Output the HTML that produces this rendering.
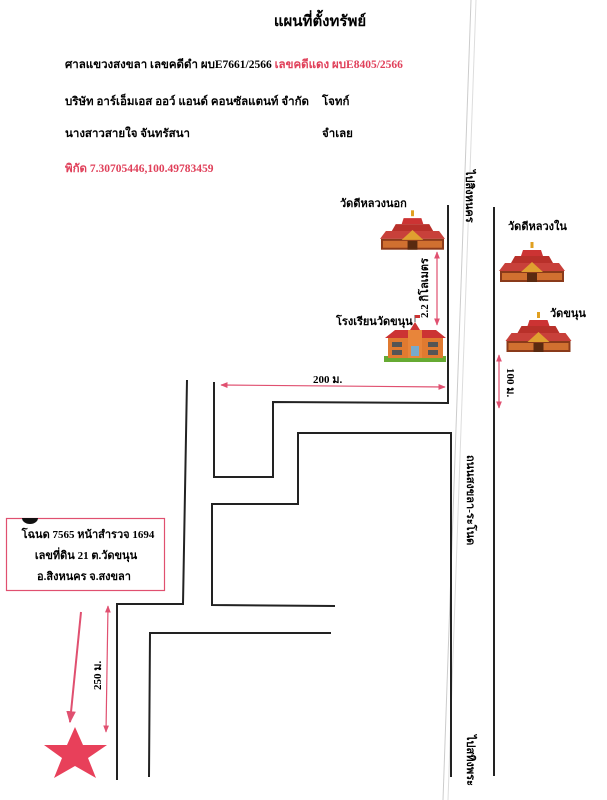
<!DOCTYPE html>
<html><head><meta charset="utf-8"><style>
html,body{margin:0;padding:0;background:#fff;}
svg{display:block;}
text{font-family:"Liberation Serif","Noto Serif CJK SC","Noto Sans CJK SC",serif;font-weight:bold;}
</style></head><body>
<svg width="607" height="800" viewBox="0 0 607 800" xmlns="http://www.w3.org/2000/svg">
<defs>
<symbol id="temple" viewBox="0 0 66 40">
<rect x="31.5" y="0" width="3" height="6" fill="#e0a020"/>
<polygon points="24,8 42,8 44,14 22,14" fill="#c33"/>
<polygon points="16,14 50,14 54,21 12,21" fill="#b8302a"/>
<polygon points="6,21 60,21 66,29 0,29" fill="#c8403a"/>
<rect x="1" y="29" width="64" height="11" fill="#8a3a1a"/>
<rect x="3" y="31" width="60" height="7" fill="#d07030"/>
<polygon points="33,20 22,30 44,30" fill="#e0a030"/>
<rect x="28" y="31" width="10" height="9" fill="#5a2a10"/>
</symbol>
<marker id="ah" viewBox="0 0 10 10" refX="9" refY="5" markerWidth="6" markerHeight="6" orient="auto-start-reverse"><path d="M0,1 L10,5 L0,9 z" fill="#e05070"/></marker>
</defs>

<text x="320" y="26" font-size="15" text-anchor="middle">แผนที่ตั้งทรัพย์</text>
<text x="65" y="68" font-size="11.5">ศาลแขวงสงขลา เลขคดีดำ ผบE7661/2566 <tspan fill="#e0405a">เลขคดีแดง ผบE8405/2566</tspan></text>
<text x="65" y="105" font-size="11.5">บริษัท อาร์เอ็มเอส ออว์ แอนด์ คอนซัลแตนท์ จำกัด</text>
<text x="322" y="105" font-size="11.5">โจทก์</text>
<text x="65" y="137" font-size="11.5">นางสาวสายใจ จันทรัสนา</text>
<text x="322" y="137" font-size="11.5">จำเลย</text>
<text x="65" y="172" font-size="11.5" fill="#e0405a">พิกัด 7.30705446,100.49783459</text>

<line x1="471" y1="0" x2="443" y2="800" stroke="#ccc" stroke-width="1"/>
<line x1="476" y1="0" x2="448" y2="800" stroke="#ddd" stroke-width="1"/>

<g fill="none" stroke="#222" stroke-width="2">
<polyline points="448,205 448,403 273,402 273,477 214,477 214,382"/>
<polyline points="451,777 451,433 298,433 298,504 212,504 212,605 335,606"/>
<polyline points="331,633 150,633 149,777"/>
<polyline points="187,380 183,604 117,604 117,780"/>
<line x1="494" y1="207" x2="494" y2="776"/>
</g>

<text transform="translate(466,170) rotate(90)" font-size="11">ไปสิงหนคร</text>
<text transform="translate(467,455) rotate(90)" font-size="11">ถนนสงขลา-ระโนด</text>
<text transform="translate(467,735) rotate(90)" font-size="11">ไปสทิงพระ</text>

<text x="340" y="207" font-size="11">วัดดีหลวงนอก</text>
<use href="#temple" x="380" y="210" width="65" height="40"/>
<text x="508" y="230" font-size="11">วัดดีหลวงใน</text>
<use href="#temple" x="499" y="242" width="66" height="40"/>
<text x="550" y="317" font-size="11">วัดขนุน</text>
<use href="#temple" x="505" y="312" width="67" height="40"/>

<text x="336" y="325" font-size="11">โรงเรียนวัดขนุน</text>
<g>
<rect x="384" y="356" width="62" height="6" fill="#6a3"/>
<polygon points="385,338 395,330 412,330 420,338" fill="#c33"/>
<polygon points="410,338 418,330 436,330 446,338" fill="#c33"/>
<polygon points="405,338 415,322 425,338" fill="#c33"/>
<rect x="388" y="338" width="55" height="20" fill="#e07a30"/>
<rect x="408" y="330" width="14" height="28" fill="#e8853a"/>
<rect x="411" y="346" width="8" height="10" fill="#7ac"/>
<rect x="392" y="342" width="10" height="5" fill="#555"/>
<rect x="392" y="350" width="10" height="5" fill="#555"/>
<rect x="428" y="342" width="10" height="5" fill="#555"/>
<rect x="428" y="350" width="10" height="5" fill="#555"/>
<line x1="415" y1="322" x2="415" y2="315" stroke="#555"/>
<rect x="415" y="315" width="5" height="3" fill="#c33"/>
</g>

<g stroke="#e05070" stroke-width="1.2" fill="none">
<line x1="221" y1="385" x2="445" y2="387" marker-start="url(#ah)" marker-end="url(#ah)"/>
<line x1="437" y1="252" x2="437" y2="325" marker-start="url(#ah)" marker-end="url(#ah)"/>
<line x1="499" y1="355" x2="499" y2="408" marker-start="url(#ah)" marker-end="url(#ah)"/>
<line x1="108" y1="606" x2="106" y2="732" marker-start="url(#ah)" marker-end="url(#ah)"/>
<line x1="81" y1="612" x2="70" y2="722" stroke-width="2" marker-end="url(#ah)"/>
</g>
<text x="313" y="383" font-size="11">200 ม.</text>
<text transform="translate(428,318) rotate(-90)" font-size="11">2.2 กิโลเมตร</text>
<text transform="translate(507,368) rotate(90)" font-size="11">100 ม.</text>
<text transform="translate(101,690) rotate(-90)" font-size="11">250 ม.</text>

<rect x="6.5" y="518.5" width="158" height="72" fill="none" stroke="#e05070" stroke-width="1.2"/>
<path d="M22,518 A8,6 0 0 0 38,518 z" fill="#111"/>
<text x="88" y="538" font-size="11" text-anchor="middle">โฉนด 7565 หน้าสำรวจ 1694</text>
<text x="86" y="559" font-size="11" text-anchor="middle">เลขที่ดิน 21 ต.วัดขนุน</text>
<text x="84" y="580" font-size="11" text-anchor="middle">อ.สิงหนคร   จ.สงขลา</text>

<polygon points="75,727 83,745 107,745 88,758 96,778 75,766 54,778 62,758 44,745 67,745" fill="#e8405a"/>
</svg>
</body></html>
